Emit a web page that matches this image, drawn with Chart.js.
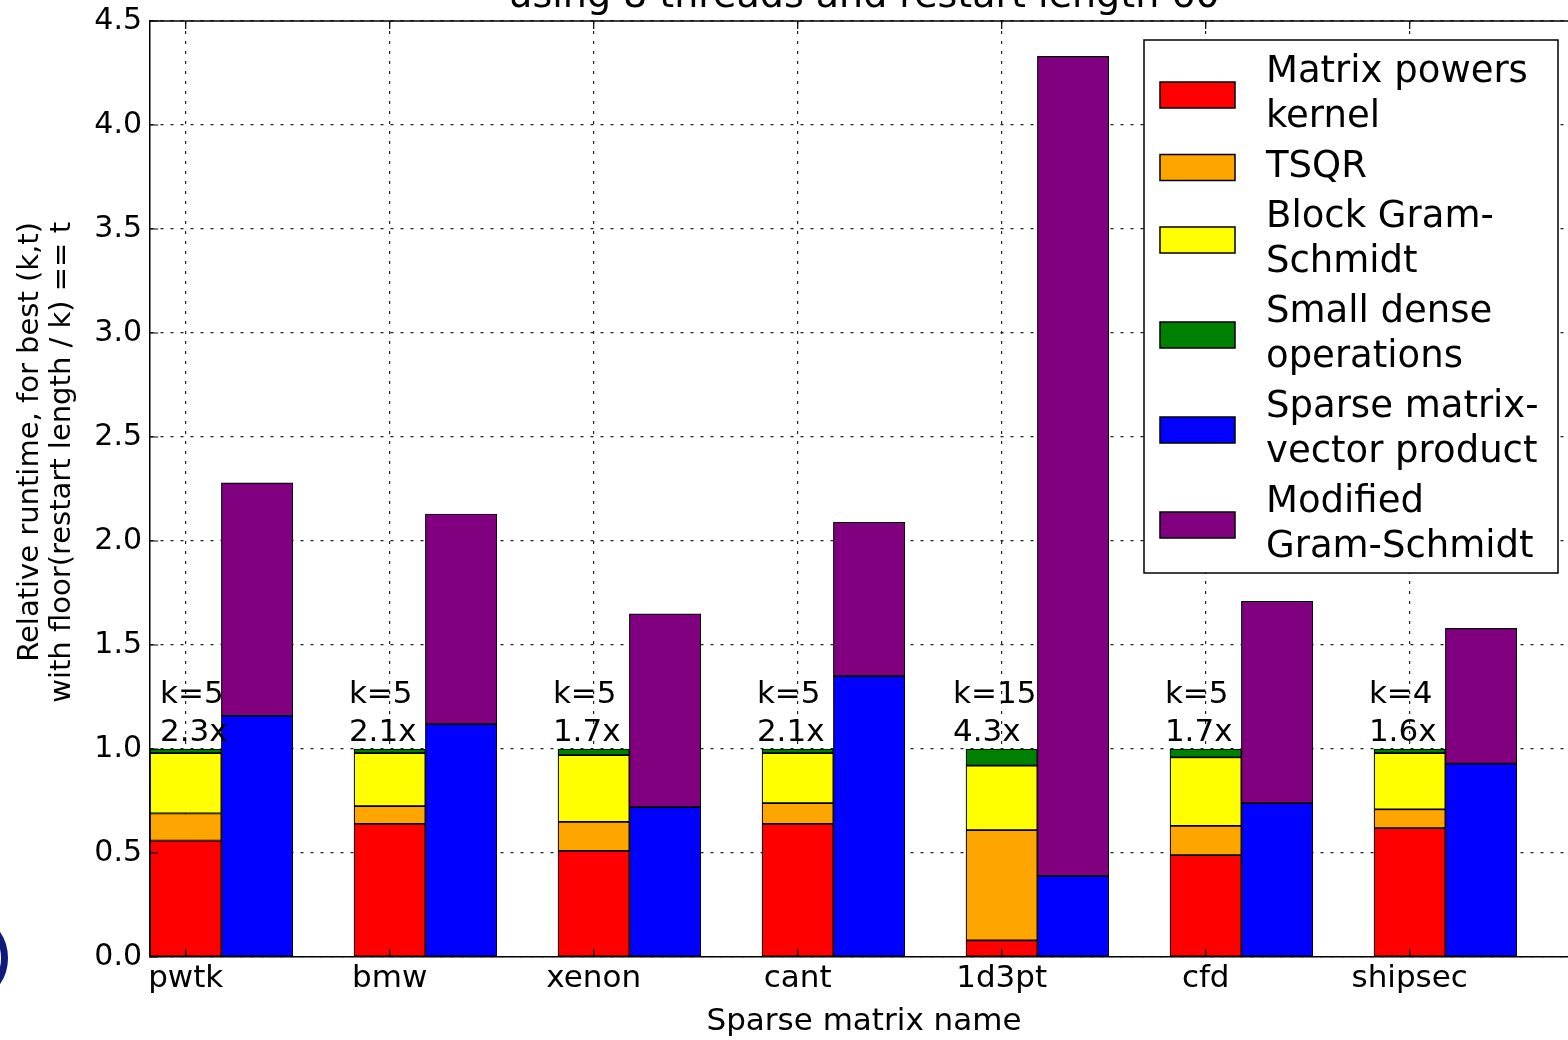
<!DOCTYPE html>
<html><head><meta charset="utf-8">
<script src="https://cdn.jsdelivr.net/npm/chart.js@4.4.0/dist/chart.umd.min.js"></script>
<style>
html,body{margin:0;padding:0;background:#fff;overflow:hidden;width:1568px;height:1040px;position:relative;}
#wrap{position:absolute;left:0;top:-40px;width:1600px;height:1090px;}
#logo{position:absolute;left:-86px;top:911px;width:94px;height:94px;box-sizing:border-box;border-radius:50%;border:7px solid #0f1a7a;}
</style></head><body>
<div id="wrap"><canvas id="c" width="1600" height="1090" style="width:1600px;height:1090px"></canvas></div>
<div id="logo"></div>
<script>
// ---- data ----
const matrices = ['pwtk', 'bmw', 'xenon', 'cant', '1d3pt', 'cfd', 'shipsec'];
const matrixPowers = [0.56, 0.64, 0.51, 0.64, 0.08, 0.49, 0.62];
const tsqr         = [0.13, 0.085, 0.14, 0.10, 0.53, 0.14, 0.09];
const blockGS      = [0.29, 0.255, 0.32, 0.24, 0.31, 0.33, 0.27];
const smallDense   = [0.02, 0.02, 0.03, 0.02, 0.08, 0.04, 0.02];
const spmv         = [1.16, 1.12, 0.72, 1.35, 0.39, 0.74, 0.93];
const mgs          = [1.12, 1.01, 0.93, 0.74, 3.94, 0.97, 0.65];
const kValues  = [5, 5, 5, 5, 15, 5, 4];
const speedups = ['2.3x', '2.1x', '1.7x', '2.1x', '4.3x', '1.7x', '1.6x'];
const seriesLabels = ['Matrix powers kernel', 'TSQR', 'Block Gram-Schmidt', 'Small dense operations', 'Sparse matrix-vector product', 'Modified Gram-Schmidt'];
const legendLines = [['Matrix powers', 'kernel'], ['TSQR'], ['Block Gram-', 'Schmidt'], ['Small dense', 'operations'], ['Sparse matrix-', 'vector product'], ['Modified', 'Gram-Schmidt']];
const titleText = 'using 8 threads and restart length 60';
const xTitle = 'Sparse matrix name';
const yTitleLines = ['Relative runtime, for best (k,t)', 'with floor(restart length / k) == t'];

// ---- layout / style ----
const LEFT = 0.175, RIGHT = 0.525;
const colors = ['#ff0000', '#ffa500', '#ffff00', '#008000', '#0000ff', '#800080'];
const FONT = "'DejaVu Sans', sans-serif";
Chart.defaults.font.family = FONT;
Chart.defaults.color = '#000';

const leftSeries = [matrixPowers, tsqr, blockGS, smallDense];
const rightSeries = [spmv, mgs];
const datasets = [];
leftSeries.forEach((arr, s) => datasets.push({
  label: seriesLabels[s],
  data: arr.map((v, i) => ({x: i + LEFT, y: v})),
  backgroundColor: colors[s]
}));
rightSeries.forEach((arr, s) => datasets.push({
  label: seriesLabels[4 + s],
  data: arr.map((v, i) => ({x: i + RIGHT, y: v})),
  backgroundColor: colors[4 + s]
}));
datasets.forEach(d => Object.assign(d, {
  borderColor: '#000', borderWidth: 1.2, borderSkipped: false,
  barPercentage: 1, categoryPercentage: 1, stack: 'all'
}));

const borderOpts = {display: true, color: '#000', width: 1.5, dash: [3, 7]};

const annotatePlugin = {
  id: 'annotate',
  afterDatasetsDraw(chart) {
    const {ctx, scales: {x, y}} = chart;
    ctx.save();
    ctx.font = `31px ${FONT}`;
    ctx.fillStyle = '#000';
    ctx.textBaseline = 'middle';
    ctx.textAlign = 'left';
    matrices.forEach((m, i) => {
      const total = matrixPowers[i] + tsqr[i] + blockGS[i] + smallDense[i];
      const top = y.getPixelForValue(total);
      const cx = x.getPixelForValue(i + LEFT);
      const l1 = 'k=' + kValues[i], l2 = speedups[i];
      const w = Math.max(ctx.measureText(l1).width, ctx.measureText(l2).width);
      const lx = Math.max(cx - 7 - w / 2, x.left + 10);
      ctx.fillText(l1, lx, top - 54);
      ctx.fillText(l2, lx, top - 16);
    });
    ctx.restore();
  }
};

const framePlugin = {
  id: 'frame',
  afterDraw(chart) {
    const {ctx, chartArea: a, scales: {x, y}} = chart;
    ctx.save();
    ctx.strokeStyle = '#000';
    ctx.lineWidth = 1.5;
    ctx.beginPath();
    ctx.moveTo(a.left, a.top); ctx.lineTo(a.right, a.top); ctx.lineTo(a.right, a.bottom);
    ctx.stroke();
    ctx.lineWidth = 1.2;
    ctx.beginPath();
    x.ticks.forEach(t => {
      const px = x.getPixelForValue(t.value);
      ctx.moveTo(px, a.bottom); ctx.lineTo(px, a.bottom - 8);
      ctx.moveTo(px, a.top); ctx.lineTo(px, a.top + 8);
    });
    y.ticks.forEach(t => {
      const py = y.getPixelForValue(t.value);
      ctx.moveTo(a.left, py); ctx.lineTo(a.left + 8, py);
      ctx.moveTo(a.right, py); ctx.lineTo(a.right - 8, py);
    });
    ctx.stroke();
    // y axis title
    ctx.font = `29px ${FONT}`;
    ctx.fillStyle = '#000';
    ctx.textBaseline = 'middle';
    ctx.textAlign = 'right';
    yTitleLines.forEach((line, j) => {
      ctx.save();
      ctx.translate(30 + j * 32, a.top + 201);
      ctx.rotate(-Math.PI / 2);
      ctx.fillText(line, 0, 0);
      ctx.restore();
    });
    ctx.restore();
  }
};

const legendPlugin = {
  id: 'boxLegend',
  afterDraw(chart) {
    const {ctx, chartArea: a} = chart;
    const bw = 414, bh = 533;
    const bx = a.right - 20 - bw, by = a.top + 19;
    ctx.save();
    ctx.fillStyle = '#fff';
    ctx.fillRect(bx, by, bw, bh);
    ctx.strokeStyle = '#000';
    ctx.lineWidth = 1.5;
    ctx.strokeRect(bx, by, bw, bh);
    ctx.font = `37px ${FONT}`;
    ctx.textBaseline = 'middle';
    ctx.textAlign = 'left';
    const lh = 45, gap = 5;
    let cy = by + 10;
    chart.data.datasets.forEach((ds, k) => {
      const lines = legendLines[k];
      const h = lines.length * lh;
      const c = cy + h / 2;
      ctx.fillStyle = ds.backgroundColor;
      ctx.fillRect(bx + 16, c - 13, 75, 26);
      ctx.strokeStyle = '#000';
      ctx.lineWidth = 1.5;
      ctx.strokeRect(bx + 16, c - 13, 75, 26);
      ctx.fillStyle = '#000';
      lines.forEach((ln, j) => ctx.fillText(ln, bx + 122, c + (j - (lines.length - 1) / 2) * lh));
      cy += h + gap;
    });
    ctx.restore();
  }
};

new Chart(document.getElementById('c'), {
  type: 'bar',
  data: {datasets},
  options: {
    responsive: false,
    animation: false,
    layout: {padding: {left: 0, right: 22, top: 0, bottom: 0}},
    plugins: {
      legend: {display: false},
      tooltip: {enabled: false},
      title: {display: true, fullSize: false, text: titleText, color: '#000', font: {size: 38, weight: 'normal'}, padding: {top: 14.5, bottom: 0.9}}
    },
    scales: {
      x: {
        type: 'linear', min: 0, max: 7, stacked: true, offset: false, z: 1,
        afterBuildTicks: s => { s.ticks = matrices.map((_, i) => ({value: i + LEFT})); },
        afterFit: s => { s.height = 93; },
        ticks: {callback: (v, i) => matrices[i], font: {size: 31}, color: '#000', padding: 3, autoSkip: false, maxRotation: 0},
        grid: {color: '#222', lineWidth: 1.2, drawTicks: false, offset: false},
        border: borderOpts,
        title: {display: true, text: xTitle, color: '#000', font: {size: 31}, padding: {top: 0, bottom: 9}}
      },
      y: {
        min: 0, max: 4.5, stacked: true, z: 1,
        afterFit: s => { s.width = 150; },
        ticks: {stepSize: 0.5, callback: v => v.toFixed(1), font: {size: 30}, color: '#000', padding: 8},
        grid: {color: '#222', lineWidth: 1.2, drawTicks: false},
        border: borderOpts
      }
    }
  },
  plugins: [annotatePlugin, framePlugin, legendPlugin]
});
</script>
</body></html>
